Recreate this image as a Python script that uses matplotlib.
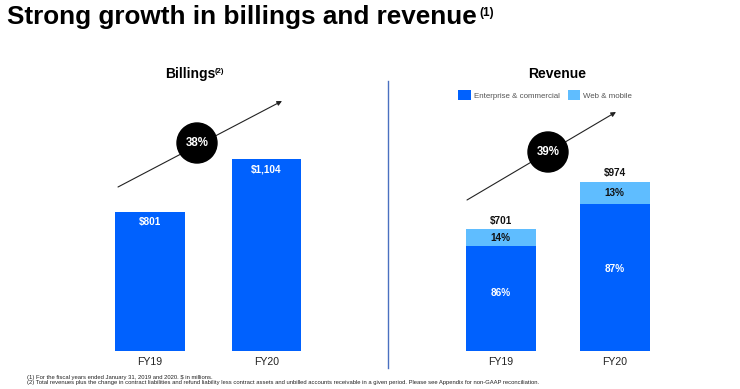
import matplotlib
matplotlib.use("Agg")
import matplotlib.pyplot as plt
from matplotlib.patches import Circle, FancyArrowPatch

plt.rcParams['font.family'] = ['Liberation Sans', 'DejaVu Sans']

years = ["FY19", "FY20"]
billings = [801, 1104]
billing_labels = ["$801", "$1,104"]
rev_total = [701, 974]
rev_total_labels = ["$701", "$974"]
rev_enterprise_pct = [86, 87]
rev_web_pct = [14, 13]
growth_billings = "38%"
growth_revenue = "39%"

DARK = "#0061FE"
LIGHT = "#5FBDFF"

W, H = 740, 389
fig = plt.figure(figsize=(W / 100, H / 100), dpi=100)

def px_axes(left, top, right, bottom):
    return fig.add_axes([left / W, 1 - bottom / H, (right - left) / W, (bottom - top) / H])

ymax = 1600
xl = (-0.7, 1.7)
LBL = 7.2

# Billings
ax1 = px_axes(68.5, 351 - 0.1735 * ymax, 348, 351)
x = [0, 1]
b1 = ax1.bar(x, billings, width=0.6, color=DARK)
for xi, v, lab in zip(x, billings, billing_labels):
    ax1.text(xi, v - 60, lab, ha="center", va="center", color="white",
             fontsize=LBL, fontweight="bold")

# Revenue
ax2 = px_axes(421, 351 - 0.1735 * ymax, 694.6, 351)
ent = [t * p / 100 for t, p in zip(rev_total, rev_enterprise_pct)]
web = [t - e for t, e in zip(rev_total, ent)]
r1 = ax2.bar(x, ent, width=0.614, color=DARK, label="Enterprise & commercial")
r2 = ax2.bar(x, web, width=0.614, bottom=ent, color=LIGHT, label="Web & mobile")
for xi, e, w, t, pe, pw, lab in zip(x, ent, web, rev_total, rev_enterprise_pct,
                                     rev_web_pct, rev_total_labels):
    ax2.text(xi, e * 0.555, f"{pe}%", ha="center", va="center", color="white",
             fontsize=LBL, fontweight="bold")
    ax2.text(xi, e + w / 2, f"{pw}%", ha="center", va="center", color="#111111",
             fontsize=LBL, fontweight="bold")
    ax2.text(xi, t + 50, lab, ha="center", va="center", color="#111111",
             fontsize=LBL, fontweight="bold")

for ax in (ax1, ax2):
    ax.set_xlim(*xl)
    ax.set_ylim(0, ymax)
    ax.set_xticks(x)
    ax.set_xticklabels(years, fontsize=7.6, color="#222222")
    ax.tick_params(axis="x", length=0, pad=4.5)
    ax.set_yticks([])
    for s in ax.spines.values():
        s.set_visible(False)
    ax.patch.set_alpha(0)

ax2.legend(handles=[r1, r2], loc="center left", bbox_to_anchor=(458 / W, 1 - 95 / H),
           bbox_transform=fig.transFigure, ncol=2, frameon=False, fontsize=5.7,
           handlelength=1.6, handleheight=1.6, handletextpad=0.4, columnspacing=1.0,
           labelcolor="#555555", borderaxespad=0, borderpad=0)

# Overlay in pixel coords
ov = fig.add_axes([0, 0, 1, 1])
ov.set_xlim(0, W)
ov.set_ylim(H, 0)
ov.axis("off")
ov.patch.set_alpha(0)

ov.text(7, 17, "Strong growth in billings and revenue", fontsize=18.8,
        fontweight="bold", va="center", ha="left")
ov.text(479, 13, "(1)", fontsize=8.5, fontweight="bold", va="center", ha="left")

ov.text(190, 74, "Billings", fontsize=10, fontweight="bold", ha="center", va="center")
ov.text(215, 71, "(2)", fontsize=5.5, fontweight="bold", ha="left", va="center")
ov.text(557, 74, "Revenue", fontsize=10, fontweight="bold", ha="center", va="center")

ov.plot([388, 388], [81, 368], color="#4A70C0", lw=1)

for (x0, y0, x1, y1, cx, cy, lab) in [(118, 187, 282, 101, 197, 143, growth_billings),
                                      (467, 200, 616, 112, 548, 152, growth_revenue)]:
    ov.add_patch(FancyArrowPatch((x0, y0), (x1, y1), arrowstyle="-|>", mutation_scale=7,
                                 color="#222222", lw=0.8, shrinkA=0, shrinkB=0))
    ov.add_patch(Circle((cx, cy), 20, color="black", zorder=3))
    ov.text(cx, cy, lab, color="white", fontsize=8.3, fontweight="bold",
            ha="center", va="center", zorder=4)

ov.text(27, 377, "(1) For the fiscal years ended January 31, 2019 and 2020. $ in millions.",
        fontsize=4.2, va="center", ha="left", color="#222222")
ov.text(27, 382.7, "(2) Total revenues plus the change in contract liabilities and refund liability less contract assets and unbilled accounts receivable in a given period. Please see Appendix for non-GAAP reconciliation.",
        fontsize=4.2, va="center", ha="left", color="#222222")

fig.savefig("out.png", dpi=100)
